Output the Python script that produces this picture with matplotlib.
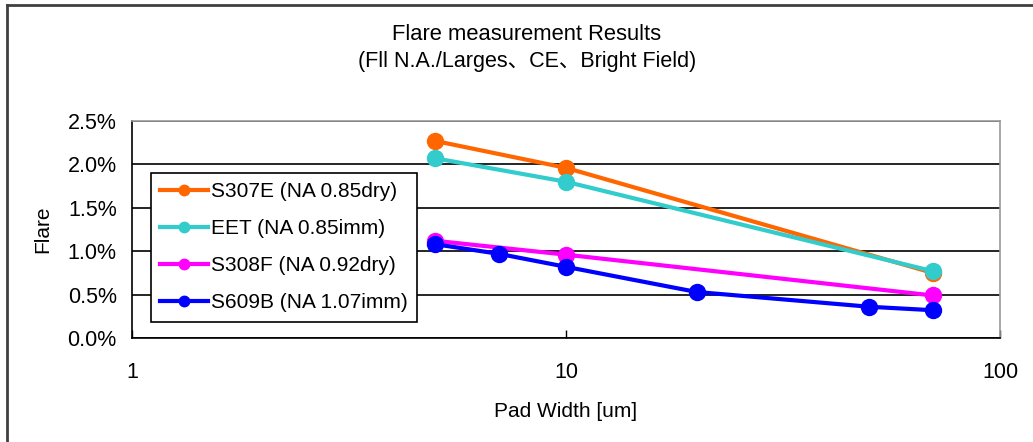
import matplotlib
matplotlib.use('Agg')
import matplotlib.pyplot as plt
import matplotlib.ticker as ticker
from matplotlib.lines import Line2D

plt.rcParams['font.family'] = ['Liberation Sans', 'Noto Sans CJK JP', 'DejaVu Sans']

# data (pad width in um, flare in %)
labels = ['S307E (NA 0.85dry)', 'EET (NA 0.85imm)', 'S308F (NA 0.92dry)', 'S609B (NA 1.07imm)']
colors = ['#FF6600', '#33CCCC', '#FF00FF', '#0000FF']

x_s307e = [5, 10, 70]
y_s307e = [2.27, 1.96, 0.75]
x_eet = [5, 10, 70]
y_eet = [2.07, 1.80, 0.77]
x_s308f = [5, 10, 70]
y_s308f = [1.12, 0.96, 0.49]
x_s609b = [5, 7, 10, 20, 50, 70]
y_s609b = [1.08, 0.97, 0.82, 0.53, 0.36, 0.32]

xticks = [1, 10, 100]
yticks = [0.0, 0.5, 1.0, 1.5, 2.0, 2.5]

fig = plt.figure(figsize=(10.33, 4.42), dpi=100)
ax = fig.add_axes([132 / 1033, 1 - 338 / 442, (1000 - 132) / 1033, (338 - 121) / 442])

series = [(x_s307e, y_s307e), (x_eet, y_eet), (x_s308f, y_s308f), (x_s609b, y_s609b)]
handles = []
for (xs, ys), c, lab in zip(series, colors, labels):
	ax.plot(xs, ys, '-o', color=c, linewidth=3, markersize=11.5, zorder=3)
	handles.append(Line2D([], [], color=c, marker='o', linewidth=3, markersize=7.5))

ax.set_xscale('log')
ax.set_xlim(1, 100)
ax.set_ylim(0, 2.5)
ax.xaxis.set_major_locator(ticker.FixedLocator(xticks))
ax.xaxis.set_minor_locator(ticker.NullLocator())
ax.xaxis.set_major_formatter(ticker.FixedFormatter([str(v) for v in xticks]))
ax.set_yticks(yticks)
ax.yaxis.set_major_formatter(ticker.FuncFormatter(lambda v, p: '%.1f%%' % v))

ax.tick_params(axis='x', direction='in', length=6, width=1, labelsize=15.5, pad=17, colors='black')
ax.tick_params(axis='y', length=0, labelsize=15.5, pad=11)
ax.grid(axis='y', color='black', linewidth=1.2)
ax.set_axisbelow(True)

for s in ['top', 'right']:
	ax.spines[s].set_color('#999999')
	ax.spines[s].set_linewidth(1.2)
for s in ['left', 'bottom']:
	ax.spines[s].set_color('black')
	ax.spines[s].set_linewidth(1.2)

ax.set_xlabel('Pad Width [um]', fontsize=15, labelpad=14)
ax.set_ylabel('Flare', fontsize=15, labelpad=11)

fig.text(527 / 1033, 1 - 34 / 442, 'Flare measurement Results', ha='center', va='center', fontsize=15.8)
fig.text(527 / 1033, 1 - 61 / 442, '(Fll N.A./Larges\u3001CE\u3001Bright Field)', ha='center', va='center', fontsize=15.5)

lgd = ax.legend(handles, labels, loc='upper left',
		bbox_to_anchor=((151 - 132) / 868, (338 - 173) / 217),
		fontsize=15, frameon=True, fancybox=False, framealpha=1.0,
		edgecolor='black', handlelength=2.3, handletextpad=0.12,
		labelspacing=0.86, borderpad=0.45, borderaxespad=0)
lgd.get_frame().set_linewidth(1.2)
lgd.set_zorder(5)

# outer frame of the chart area
fig.add_artist(Line2D([7 / 1033, 7 / 1033], [0, 1 - 5 / 442], color='#404040', linewidth=2, transform=fig.transFigure))
fig.add_artist(Line2D([7 / 1033, 1], [1 - 5 / 442, 1 - 5 / 442], color='#404040', linewidth=2, transform=fig.transFigure))

plt.savefig('out.png', dpi=100)
